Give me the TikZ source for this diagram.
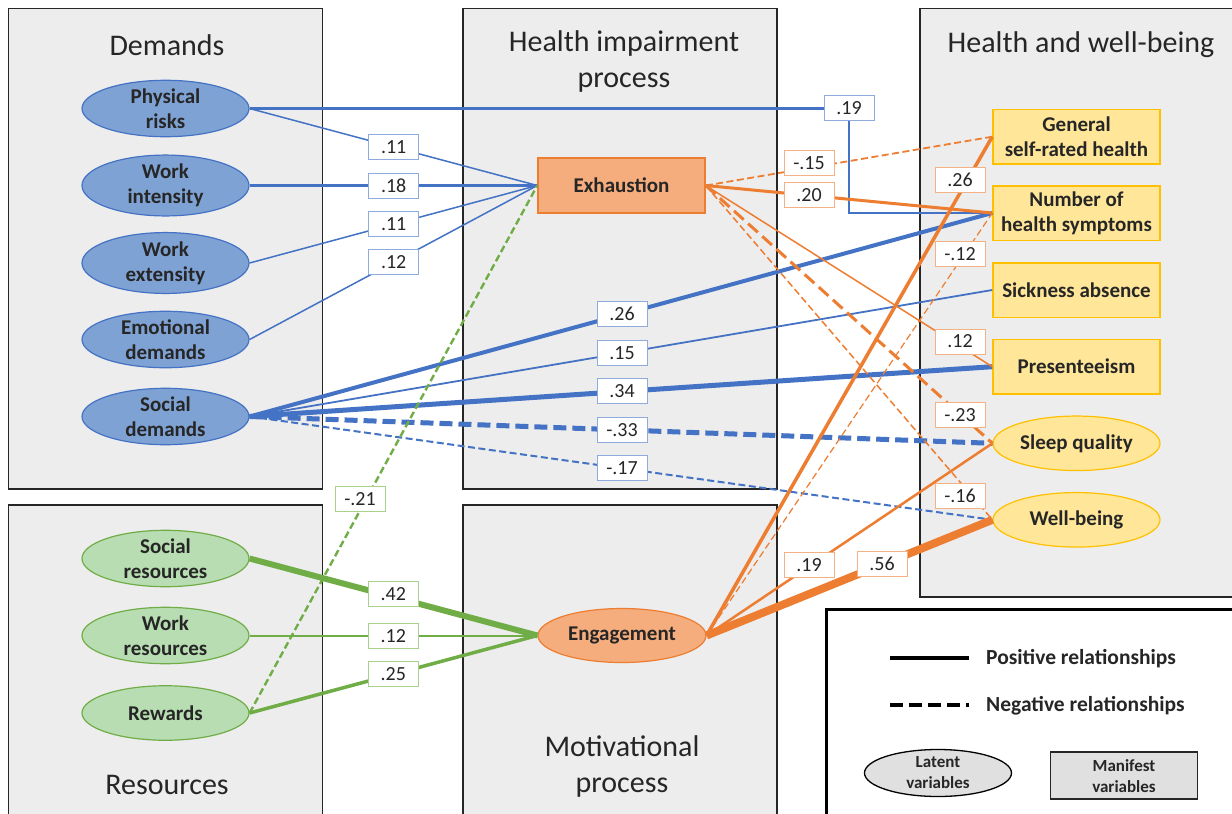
\documentclass[tikz,border=0pt]{standalone}
\usepackage{fontspec}
\setmainfont{Carlito}
\usetikzlibrary{shapes.geometric}
\definecolor{txt}{HTML}{262626}
\definecolor{panelfill}{HTML}{EDEDED}
\definecolor{panelborder}{HTML}{262626}
\definecolor{bluefill}{RGB}{127,162,212}
\definecolor{blueline}{HTML}{4472C4}
\definecolor{bluelab}{HTML}{8FAADC}
\definecolor{greenfill}{RGB}{184,221,178}
\definecolor{greenline}{HTML}{70AD47}
\definecolor{greenlab}{HTML}{A9D18E}
\definecolor{orangefill}{RGB}{245,173,125}
\definecolor{orangeline}{HTML}{ED7D31}
\definecolor{orangelab}{HTML}{F4B183}
\definecolor{yellowfill}{HTML}{FFE699}
\definecolor{yellowline}{HTML}{FFC000}
\definecolor{legfill}{HTML}{E0E0E0}
\newcommand\nodefnt{\fontsize{21}{25}\selectfont\bfseries}
\newcommand\titlefnt{\fontsize{30}{36}\selectfont}
\newcommand\labfnt{\fontsize{20}{24}\selectfont}
\newcommand\legfnt{\fontsize{21.5}{25}\selectfont\bfseries}
\newcommand\legsmall{\fontsize{17}{21}\selectfont\bfseries}
\tikzset{
  panel/.style={draw=panelborder, fill=panelfill, line width=1.5pt},
  ptitle/.style={font=\titlefnt, text=txt, align=center, inner sep=0pt},
  latnode/.style={ellipse, minimum width=167pt, minimum height=54.5pt, inner sep=0pt, align=center, font=\nodefnt, text=txt, line width=1.2pt},
  demand/.style={latnode, fill=bluefill, draw=blueline},
  resource/.style={latnode, fill=greenfill, draw=greenline},
  outbox/.style={rectangle, minimum width=167pt, minimum height=54.5pt, inner sep=0pt, align=center, font=\nodefnt, text=txt, fill=yellowfill, draw=yellowline, line width=1.5pt},
  outell/.style={latnode, fill=yellowfill, draw=yellowline},
  coef/.style={rectangle, fill=white, minimum width=50pt, minimum height=25pt, inner sep=0pt, font=\labfnt, text=txt, line width=1pt},
  bcoef/.style={coef, draw=bluelab},
  gcoef/.style={coef, draw=greenlab},
  ocoef/.style={coef, draw=orangelab},
  bl/.style={draw=blueline},
  gl/.style={draw=greenline},
  ol/.style={draw=orangeline},
  negthin/.style={dash pattern=on 7pt off 3.5pt},
  negthick/.style={dash pattern=on 13pt off 6pt},
}
\begin{document}
\begin{tikzpicture}[x=1pt, y=-1pt]
\clip (0,0) rectangle (1232,814);
\fill[white] (0,0) rectangle (1232,814);
% panels
\draw[panel] (8.5,8.5) rectangle (322.5,489);
\draw[panel] (463,8.5) rectangle (777,489);
\draw[panel] (8.5,505) rectangle (322.5,840);
\draw[panel] (463,505) rectangle (777,840);
\draw[panel] (920,8.5) rectangle (1245,597);
\draw[draw=black, fill=white, line width=3pt] (826,609) rectangle (1245,840);
% titles
\node[ptitle] (tdem) at (167,45) {Demands};
\node[ptitle] (thip) at (624,62) {Health impairment\\process};
\node[ptitle] (thwb) at (1081,45) {Health and well-being};
\node[ptitle] (tres) at (167,785) {Resources};
\node[ptitle] (tmot) at (622,766) {Motivational\\process};
% demands
\node[demand] (pr) at (165.5,108.5) {Physical\\risks};
\node[demand] (wi) at (165.5,185.5) {Work\\intensity};
\node[demand] (we) at (165.5,263) {Work\\extensity};
\node[demand] (ed) at (165.5,339.5) {Emotional\\demands};
\node[demand] (sd) at (165.5,416.5) {Social\\demands};
% resources
\node[resource] (sr) at (165.5,558.5) {Social\\resources};
\node[resource] (wr) at (165.5,635.5) {Work\\resources};
\node[resource] (rw) at (165.5,713) {Rewards};
% mediators
\node[rectangle, minimum width=167pt, minimum height=55pt, inner sep=0pt, fill=orangefill, draw=orangeline, line width=1.5pt, font=\nodefnt, text=txt] (exh) at (621.5,185.5) {Exhaustion};
\node[latnode, minimum width=168pt, minimum height=54pt, fill=orangefill, draw=orangeline] (eng) at (622,635.5) {Engagement};
% outcomes
\node[outbox] (gsrh) at (1076.5,136.7) {General\\self-rated health};
\node[outbox] (hs) at (1076.5,213) {Number of\\health symptoms};
\node[outbox] (sa) at (1076.5,290) {Sickness absence};
\node[outbox] (pres) at (1076.5,366.7) {Presenteeism};
\node[outell] (sq) at (1076.5,443.3) {Sleep quality};
\node[outell] (wb) at (1076.5,519.8) {Well-being};
% coefficient label positions
\coordinate (c19) at (849,108);
% blue connectors
\draw[bl, line width=1.5pt] (pr.east) -- (exh.west);
\draw[bl, line width=3pt] (wi.east) -- (exh.west);
\draw[bl, line width=1.5pt] (we.east) -- (exh.west);
\draw[bl, line width=1.5pt] (ed.east) -- (exh.west);
\draw[bl, line width=2.5pt] (pr.east) -- (pr.east -| c19) |- (hs.west);
\draw[bl, line width=4pt] (sd.east) -- (hs.west);
\draw[bl, line width=1.8pt] (sd.east) -- (sa.west);
\draw[bl, line width=5pt] (sd.east) -- (pres.west);
\draw[bl, line width=5pt, negthick] (sd.east) -- (sq.west);
\draw[bl, line width=2pt, negthin] (sd.east) -- (wb.west);
% green connectors
\draw[gl, line width=6pt] (sr.east) -- (eng.west);
\draw[gl, line width=2pt] (wr.east) -- (eng.west);
\draw[gl, line width=3.5pt] (rw.east) -- (eng.west);
\draw[gl, line width=2.4pt, negthin] (rw.east) -- (exh.west);
% orange connectors
\draw[ol, line width=1.8pt, negthin] (exh.east) -- (gsrh.west);
\draw[ol, line width=3pt] (exh.east) -- (hs.west);
\draw[ol, line width=1.5pt] (exh.east) -- (pres.west);
\draw[ol, line width=3pt, negthick] (exh.east) -- (sq.west);
\draw[ol, line width=1.5pt, negthin] (exh.east) -- (wb.west);
\draw[ol, line width=3.5pt] (eng.east) -- (gsrh.west);
\draw[ol, line width=1.2pt, negthin] (eng.east) -- (hs.west);
\draw[ol, line width=2.5pt] (eng.east) -- (sq.west);
\draw[ol, line width=8pt] (eng.east) -- (wb.west);
% coefficient labels
\node[bcoef] (l1) at (393.7,146.8) {.11};
\node[bcoef] (l2) at (393.7,186) {.18};
\node[bcoef] (l3) at (393.7,224) {.11};
\node[bcoef] (l4) at (393.7,261.7) {.12};
\node[bcoef] (l5) at (c19) {.19};
\node[bcoef] (l6) at (622,314) {.26};
\node[bcoef] (l7) at (622,353) {.15};
\node[bcoef] (l8) at (622,391) {.34};
\node[bcoef] (l9) at (622,430) {-.33};
\node[bcoef] (l10) at (622,468) {-.17};
\node[gcoef] (l11) at (393.3,594) {.42};
\node[gcoef] (l12) at (393.3,636) {.12};
\node[gcoef] (l13) at (393.3,674) {.25};
\node[gcoef] (l14) at (360,499) {-.21};
\node[ocoef] (l15) at (809,163) {-.15};
\node[ocoef] (l16) at (809,195) {.20};
\node[ocoef] (l17) at (960,341.5) {.12};
\node[ocoef] (l18) at (960,415) {-.23};
\node[ocoef] (l19) at (960,496) {-.16};
\node[ocoef] (l20) at (960,180) {.26};
\node[ocoef] (l21) at (960,254) {-.12};
\node[ocoef] (l22) at (809,565) {.19};
\node[ocoef] (l23) at (882,564) {.56};
% legend
\coordinate (pa) at (890,658);
\coordinate (pb) at (969,658);
\coordinate (na) at (890,704.5);
\coordinate (nb) at (969,704.5);
\draw[black, line width=4pt] (pa) -- (pb);
\draw[black, line width=4pt, dash pattern=on 13pt off 6pt] (na) -- (nb);
\node[anchor=west, font=\legfnt, text=txt, inner sep=0pt] (lpos) at (986,659) {Positive relationships};
\node[anchor=west, font=\legfnt, text=txt, inner sep=0pt] (lneg) at (986,706) {Negative relationships};
\node[ellipse, minimum width=147pt, minimum height=47pt, inner sep=0pt, fill=legfill, draw=black, line width=1.3pt, align=center, font=\legsmall, text=txt] (llat) at (938,773) {Latent\\variables};
\node[rectangle, minimum width=147pt, minimum height=47pt, inner sep=0pt, fill=legfill, draw=txt, line width=1.8pt, align=center, font=\legsmall, text=txt] (lman) at (1124,775.7) {Manifest\\variables};
\end{tikzpicture}
\end{document}
